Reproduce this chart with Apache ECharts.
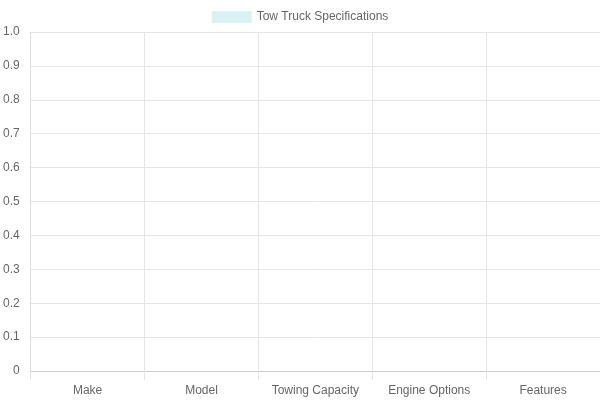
<!DOCTYPE html>
<html>
<head>
<meta charset="utf-8">
<script src="https://cdn.jsdelivr.net/npm/echarts@6/dist/echarts.min.js"></script>
<style>
  html, body { margin: 0; padding: 0; background: #fff; }
  #chart { width: 600px; height: 400px; }
</style>
</head>
<body>
<div id="chart"></div>
<script>
// 数据：类别与数值（原图中没有数据，全部为空）
var categories = ['Make', 'Model', 'Towing Capacity', 'Engine Options', 'Features'];
var seriesName = 'Tow Truck Specifications';
var values = [null, null, null, null, null];

var chart = echarts.init(document.getElementById('chart'));

var option = {
  animation: false,
  textStyle: { fontFamily: 'Liberation Sans, Arial, sans-serif' },
  // 图例
  legend: {
    top: 6,
    left: 'center',
    icon: 'rect',
    itemWidth: 40,
    itemHeight: 12,
    itemGap: 10,
    textStyle: { color: '#666', fontSize: 12 },
    data: [seriesName]
  },
  grid: { left: 30, right: 0, top: 32, bottom: 29, containLabel: false },
  xAxis: {
    type: 'category',
    data: categories,
    boundaryGap: true,
    axisLine: { show: true, lineStyle: { color: '#ccc' } },
    axisTick: { show: true, length: 9, lineStyle: { color: '#e5e5e5' } },
    splitLine: { show: true, lineStyle: { color: '#e5e5e5' } },
    axisLabel: { color: '#666', fontSize: 12, margin: 14 }
  },
  yAxis: {
    type: 'value',
    min: 0,
    max: 1,
    interval: 0.1,
    axisLine: { show: true, lineStyle: { color: '#ddd' } },
    axisTick: { show: false },
    splitLine: { show: true, lineStyle: { color: '#e5e5e5' } },
    axisLabel: {
      color: '#666',
      fontSize: 12,
      margin: 11,
      formatter: function (v) { return v === 0 ? '0' : v.toFixed(1); }
    }
  },
  series: [{
    name: seriesName,
    type: 'bar',
    data: values,
    itemStyle: { color: 'rgba(75, 192, 192, 0.2)' }
  }]
};

chart.setOption(option);
</script>
</body>
</html>
